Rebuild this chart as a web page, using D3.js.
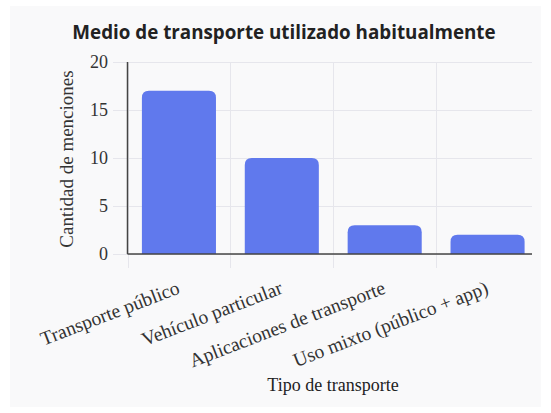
<!DOCTYPE html>
<html><head><meta charset="utf-8">
<script src="https://cdn.jsdelivr.net/npm/d3@7"></script>
<style>html,body{margin:0;padding:0;background:#fff;}svg{display:block;}</style>
</head><body>
<script>
const categories = ["Transporte público","Vehículo particular","Aplicaciones de transporte","Uso mixto (público + app)"];
const values = [17, 10, 3, 2];
const yTicks = [0, 5, 10, 15, 20];
const title = "Medio de transporte utilizado habitualmente";
const xTitle = "Tipo de transporte";
const yTitle = "Cantidad de menciones";

(function(){
const W = 551, H = 413;
const svg = d3.select("body").append("svg").attr("width", W).attr("height", H);
svg.append("rect").attr("x",10).attr("y",6).attr("width",531).attr("height",401).attr("fill","#f9f9fa");

const pLeft = 127.5, pRight = 532, bandRight = 539, pTop = 62, pBottom = 254;
const x = d3.scaleBand().domain(categories).range([pLeft, bandRight]).paddingInner(0.28).paddingOuter(0.14);
const xb = d3.scaleBand().domain(categories).range([pLeft, bandRight]);
const y = d3.scaleLinear().domain([0, 20]).range([pBottom, pTop]);

const serif = "'Liberation Serif','Times New Roman',serif";

svg.append("g").selectAll("line").data(yTicks).join("line")
  .attr("x1", 113).attr("x2", pRight)
  .attr("y1", d => Math.round(y(d))+0.5).attr("y2", d => Math.round(y(d))+0.5)
  .attr("stroke", "#e6e6ec").attr("stroke-width", 1);
svg.append("g").selectAll("line").data(categories).join("line")
  .attr("x1", d => Math.round(xb(d))+0.5).attr("x2", d => Math.round(xb(d))+0.5)
  .attr("y1", pTop).attr("y2", pBottom + 14)
  .attr("stroke", "#e6e6ec").attr("stroke-width", 1);

function barPath(x0, w, yTop, yBot, r) {
  r = Math.min(r, (yBot - yTop), w/2);
  return `M${x0},${yBot}V${yTop+r}Q${x0},${yTop} ${x0+r},${yTop}H${x0+w-r}Q${x0+w},${yTop} ${x0+w},${yTop+r}V${yBot}Z`;
}
svg.append("g").selectAll("path").data(values).join("path")
  .attr("d", (d,i) => barPath(x(categories[i]), x.bandwidth(), y(d), y(0), 7))
  .attr("fill", "#6079ed");

svg.append("line").attr("x1", pLeft).attr("x2", pLeft).attr("y1", pTop).attr("y2", pBottom)
  .attr("stroke", "#444").attr("stroke-width", 1.5);
svg.append("line").attr("x1", pLeft).attr("x2", pRight).attr("y1", pBottom).attr("y2", pBottom)
  .attr("stroke", "#444").attr("stroke-width", 1.5);

svg.append("g").selectAll("text").data(yTicks).join("text")
  .attr("x", 108).attr("y", d => y(d)).attr("dy", "0.35em")
  .attr("text-anchor", "end").attr("font-family", serif).attr("font-size", 18)
  .attr("fill", "#333").text(d => d);

svg.append("g").selectAll("text").data(categories).join("text")
  .attr("transform", d => `translate(${x(d) + x.bandwidth()/2 + 2},${pBottom + 39}) rotate(-21)`)
  .attr("text-anchor", "end").attr("font-family", serif).attr("font-size", 19.5)
  .attr("fill", "#333").text(d => d);

svg.append("text").attr("x", 284).attr("y", 39).attr("text-anchor", "middle")
  .attr("font-family", "'Open Sans','Liberation Sans',Arial,sans-serif").attr("font-weight", "bold")
  .attr("font-size", 18.8).attr("fill", "#222").text(title);
svg.append("text").attr("x", 333).attr("y", 391).attr("text-anchor", "middle")
  .attr("font-family", serif).attr("font-size", 18).attr("fill", "#222").text(xTitle);
svg.append("text").attr("transform", "translate(73,159) rotate(-90)").attr("text-anchor", "middle")
  .attr("font-family", serif).attr("font-size", 19).attr("fill", "#333").text(yTitle);
})();
</script>
</body></html>
